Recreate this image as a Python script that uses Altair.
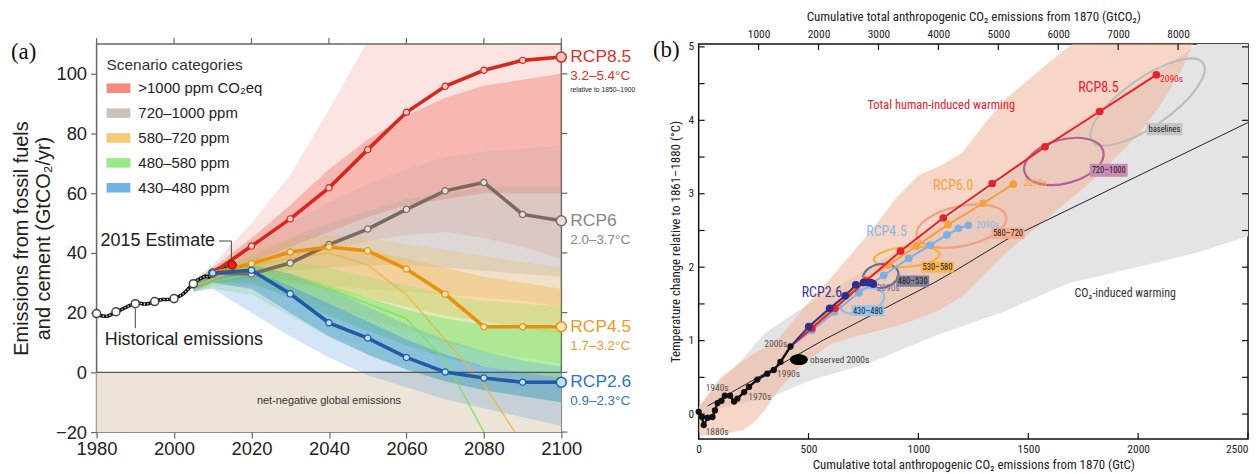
import altair as alt
import pandas as pd

FA = "Liberation Sans, Arial, Helvetica, sans-serif"
FB = "Liberation Sans Narrow, Roboto Condensed, DejaVu Sans Condensed, Liberation Sans, sans-serif"
FS = "Liberation Serif, Times New Roman, serif"

# ------------------------------------------------------------------ panel (a) data
hist_years = list(range(1980, 2016))
hist_vals = [19.7, 19.0, 18.8, 18.9, 19.5, 20.3, 20.8, 21.4, 22.1, 22.6,
             23.0, 23.2, 22.9, 22.9, 23.2, 23.7, 24.2, 24.4, 24.4, 24.5,
             24.7, 25.3, 25.9, 27.0, 28.4, 29.7, 30.8, 31.6, 32.2, 31.9,
             33.3, 34.4, 35.0, 35.4, 35.8, 36.0]
hist_mark_years = [1980, 1985, 1990, 1995, 2000, 2005, 2010]
hist_mark_vals = [19.7, 20.3, 23.0, 23.7, 24.7, 29.7, 33.3]
est_year = [2015]
est_val = [36.0]

rcp_years = [2010, 2020, 2030, 2040, 2050, 2060, 2070, 2080, 2090, 2100]
rcp85_em = [33.3, 42.3, 51.4, 61.8, 74.6, 87.1, 95.8, 101.2, 104.5, 105.6]
rcp6_em = [33.3, 33.0, 36.6, 42.8, 48.0, 54.6, 60.8, 63.6, 52.9, 50.8]
rcp45_em = [33.3, 36.4, 40.3, 42.0, 40.7, 34.6, 26.2, 15.3, 15.3, 15.3]
rcp26_em = [33.3, 34.2, 26.3, 16.6, 11.5, 5.0, 0.1, -1.9, -3.3, -3.3]
rcp_names = ["RCP8.5", "RCP6", "RCP4.5", "RCP2.6"]
rcp_ranges = ["3.2–5.4°C", "2.0–3.7°C", "1.7–3.2°C", "0.9–2.3°C"]

band_years = [2005, 2010, 2020, 2030, 2040, 2050, 2060, 2070, 2080, 2090, 2100]
cat_names = [">1000 ppm CO₂eq", "720–1000 ppm", "580–720 ppm", "480–580 ppm", "430–480 ppm"]
outer_lo = [[27, 30, 35, 38, 41, 44, 46, 47, 45, 42, 38],
            [27, 30, 31, 30, 29, 28, 27, 26, 25, 24, 22],
            [27, 29, 29, 26, 22, 18, 14, 10, 7, 5, 3],
            [27, 28, 26, 19, 12, 6, 1, -3, -6, -8, -10],
            [27, 28, 20, 12, 5, -1, -5, -9, -12, -15, -18]]
outer_hi = [[31, 36, 50, 66, 88, 111, 111, 111, 111, 111, 111],
            [31, 35, 42, 50, 57, 63, 68, 72, 74, 75, 76],
            [31, 34, 41, 45, 46, 45, 43, 41, 39, 37, 35],
            [31, 34, 38, 37, 35, 32, 29, 26, 24, 23, 22],
            [31, 34, 36, 33, 28, 22, 16, 11, 7, 4, 2]]
core_lo = [[28, 31, 37, 42, 47, 52, 56, 58, 60, 60, 60],
           [28, 31, 33, 34, 35, 36, 36, 35, 34, 33, 32],
           [28, 30, 32, 31, 28, 25, 22, 19, 17, 15, 13],
           [28, 30, 30, 25, 19, 14, 9, 5, 2, 0, -2],
           [28, 30, 28, 20, 12, 6, 1, -3, -6, -8, -10]]
core_hi = [[30, 35, 45, 56, 68, 78, 86, 92, 96, 98, 100],
           [30, 34, 39, 45, 50, 54, 58, 60, 62, 62, 62],
           [30, 33, 38, 41, 42, 41, 38, 35, 32, 30, 28],
           [30, 33, 36, 33, 29, 25, 21, 18, 16, 15, 14],
           [30, 33, 34, 29, 23, 17, 11, 6, 2, 0, -2]]
steep_green_years = [2005, 2020, 2040, 2060, 2070, 2080]
steep_green_vals = [29, 33, 28, 18, 4, -20]
steep_orange_years = [2005, 2020, 2040, 2050, 2060, 2070, 2080, 2090]
steep_orange_vals = [29, 36, 40, 36, 26, 11, -4, -24]

y_ticks_a = [-20, 0, 20, 40, 60, 80, 100]
x_ticks_a = [1980, 2000, 2020, 2040, 2060, 2080, 2100]

# ------------------------------------------------------------------ panel (b) data
hist_b_x = [0, 15, 23, 41, 63, 74, 86, 104, 119, 143, 161, 176, 207, 229, 267, 312, 342, 372, 418]
hist_b_y = [0.03, -0.04, -0.15, -0.05, -0.04, 0.05, 0.15, 0.18, 0.25, 0.25, 0.17, 0.21,
            0.30, 0.37, 0.47, 0.55, 0.60, 0.71, 0.92]
rcp85_b_x = [418, 515, 620, 760, 919, 1113, 1336, 1576, 1825, 2083]
rcp85_b_y = [0.92, 1.17, 1.44, 1.81, 2.22, 2.67, 3.14, 3.64, 4.12, 4.62]
rcp60_b_x = [418, 510, 600, 680, 760, 864, 992, 1135, 1294, 1432]
rcp60_b_y = [0.92, 1.17, 1.42, 1.63, 1.83, 2.03, 2.29, 2.58, 2.87, 3.13]
rcp45_b_x = [418, 516, 619, 729, 842, 956, 1054, 1130, 1182, 1227]
rcp45_b_y = [0.92, 1.14, 1.39, 1.65, 1.89, 2.12, 2.30, 2.44, 2.53, 2.57]
rcp26_b_x = [418, 501, 596, 667, 715, 750, 770, 782, 790, 795]
rcp26_b_y = [0.92, 1.19, 1.44, 1.61, 1.76, 1.79, 1.79, 1.79, 1.78, 1.77]
co2_line_x = [41, 569, 1066, 1172, 1398, 2500]
co2_line_y = [0.11, 1.01, 1.78, 1.96, 2.37, 3.97]
gray_x = [0, 100, 200, 300, 400, 500, 780, 1080, 1385, 1684, 2137, 2270, 2500]
gray_lo = [-0.05, 0.08, 0.15, 0.2, 0.32, 0.45, 0.7, 1.07, 1.39, 1.78, 2.10, 2.2, 2.42]
gray_hi = [0.1, 0.45, 0.75, 1.1, 1.3, 1.5, 2.0, 2.55, 3.2, 3.9, 4.75, 5.04, 5.04]
peach_x = [0, 100, 200, 250, 300, 370, 480, 600, 700, 800, 900, 1000, 1100, 1200, 1300,
           1400, 1500, 1600, 1700, 1800, 1900, 2000, 2100, 2200, 2250]
peach_lo = [-0.3, -0.28, -0.22, -0.12, 0.05, 0.35, 0.7, 0.95, 1.05, 1.12, 1.2, 1.3, 1.42,
            1.6, 1.9, 2.2, 2.45, 2.7, 2.95, 3.2, 3.5, 3.8, 4.2, 4.7, 5.04]
peach_hi = [0.1, 0.5, 0.72, 0.82, 0.9, 1.05, 1.45, 1.85, 2.2, 2.55, 2.95, 3.25, 3.38, 3.56,
            3.95, 4.3, 4.55, 4.8, 5.04, 5.04, 5.04, 5.04, 5.04, 5.04, 5.04]
obs_x = [456]
obs_y = [0.74]
ell_names = ["baselines", "720–1000", "580–720", "530–580", "480–530", "430–480"]
ell_x = [2043, 1662, 1196, 947, 829, 743]
ell_y = [4.25, 3.44, 2.56, 2.14, 1.88, 1.54]
box_x = [2120, 1866, 1408, 1087, 974, 770]
box_y = [3.88, 3.32, 2.46, 2.00, 1.81, 1.41]
dec_labels = ["1880s", "1940s", "1970s", "1990s", "2000s"]
dec_x = [32, 32, 226, 357, 299]
dec_y = [-0.24, 0.35, 0.23, 0.54, 0.96]
y_ticks_b = [0, 1, 2, 3, 4, 5]
y_minor_b = [0, 0.5, 1, 1.5, 2, 2.5, 3, 3.5, 4, 4.5, 5]
x_ticks_b = [0, 500, 1000, 1500, 2000, 2500]
x_top_ticks = [1000, 2000, 3000, 4000, 5000, 6000, 7000, 8000]

# ------------------------------------------------------------------ styles
W_A, H_A = 467, 390
W_B, H_B = 552, 397
cat_colors = ["#ef5a4c", "#b3a79f", "#f2b33d", "#6fe05a", "#3d8fd6"]
outer_op = [0.16, 0.2, 0.2, 0.22, 0.22]
core_op = [0.32, 0.3, 0.34, 0.4, 0.38]
rcp_line_cols = ["#d7261e", "#7a6a60", "#e8920c", "#1f5ba8"]
rcp_fill_cols = ["#f6c9c0", "#e6e0dc", "#fbe3b8", "#bfe0f5"]
rcp_text_cols = ["#e0302a", "#8c8480", "#ec9a2a", "#2f74c0"]
ell_a = [68, 41, 46, 33, 18, 23]
ell_b = [24, 22, 20, 10, 12, 12]
ell_ang = [325, 345, 348, 355, 350, 345]
ell_cols = ["#bcbcbc", "#b5609a", "#f4a080", "#f7b23b", "#6e6e90", "#8cc0ea"]
box_cols = ["#c4c4c4", "#c98ab5", "#f6ab8c", "#f9b54f", "#80809a", "#96c5ec"]
box_w = [36, 38, 33, 33, 33, 33]

xa_scale = alt.Scale(domain=[1980, 2100], nice=False, zero=False)
ya_scale = alt.Scale(domain=[-20, 110], nice=False, zero=False)


def XA(f, axis=None):
    if axis is None:
        return alt.X(f, type="quantitative", scale=xa_scale)
    return alt.X(f, type="quantitative", scale=xa_scale, axis=axis)


def YA(f, axis=None):
    if axis is None:
        return alt.Y(f, type="quantitative", scale=ya_scale)
    return alt.Y(f, type="quantitative", scale=ya_scale, axis=axis)


xaxis_a = alt.Axis(values=x_ticks_a, format="d", title="", labelFont=FA, labelFontSize=18.5,
                   labelColor="#222", tickSize=6, tickColor="#666", tickWidth=1.2, domain=False,
                   grid=False, labelPadding=2, labelFlush=False)
yaxis_a = alt.Axis(values=y_ticks_a, title=["Emissions from fossil fuels", "and cement (GtCO₂/yr)"],
                   titleFont=FA, titleFontSize=20, titleFontWeight="normal", titleColor="#222",
                   titlePadding=2, labelFont=FA, labelFontSize=18.5, labelColor="#222",
                   tickSize=6, tickColor="#666", tickWidth=1.2, domain=False, grid=False,
                   labelPadding=4, labelFlush=False)

cscale = alt.Scale(domain=cat_names, range=cat_colors)
leg = alt.Legend(orient="none", legendX=10, legendY=14, title="Scenario categories",
                 titleFont=FA, titleFontSize=15.5, titleFontWeight="normal", titleColor="#333",
                 labelFont=FA, labelFontSize=15, labelColor="#222",
                 symbolType="M-1,-0.4H1V0.4H-1Z", symbolSize=576, symbolOpacity=0.7,
                 symbolStrokeWidth=0, rowPadding=5, titlePadding=3, padding=0, labelOffset=8)

layers_a = []
neg_df = pd.DataFrame({"x": [1980], "x2": [2100], "y": [0], "y2": [-20]})
layers_a.append(alt.Chart(neg_df).mark_rect(color="#ece4d7").encode(
    x=XA("x", xaxis_a), x2="x2", y=YA("y", yaxis_a), y2="y2"))

rows = []
for ci, c in enumerate(cat_names):
    for j, yr in enumerate(band_years):
        rows.append(dict(cat=c, year=yr, lo=outer_lo[ci][j], hi=outer_hi[ci][j],
                         clo=core_lo[ci][j], chi=core_hi[ci][j]))
bands = pd.DataFrame(rows)
for ci, c in enumerate(cat_names):
    d = bands[bands.cat == c]
    layers_a.append(alt.Chart(d).mark_area(opacity=outer_op[ci], clip=True).encode(
        x=XA("year"), y=YA("lo"), y2="hi", color=alt.Color("cat:N", scale=cscale, legend=leg)))
    layers_a.append(alt.Chart(d).mark_area(opacity=core_op[ci], clip=True).encode(
        x=XA("year"), y=YA("clo"), y2="chi", color=alt.Color("cat:N", scale=cscale, legend=leg)))

for yrs, vals, col in [(steep_green_years, steep_green_vals, "#74e35c"),
                       (steep_orange_years, steep_orange_vals, "#f0b440")]:
    layers_a.append(alt.Chart(pd.DataFrame({"year": yrs, "val": vals})).mark_line(
        color=col, strokeWidth=1.6, opacity=0.8, clip=True).encode(x=XA("year"), y=YA("val")))

zero_df = pd.DataFrame({"v": [0]})
layers_a.append(alt.Chart(zero_df).mark_rule(color="#555", strokeWidth=1.2).encode(y=YA("v")))

hist_df = pd.DataFrame({"year": hist_years, "val": hist_vals})
layers_a.append(alt.Chart(hist_df).mark_line(color="#111", strokeWidth=3.6).encode(
    x=XA("year"), y=YA("val")))
layers_a.append(alt.Chart(hist_df).mark_line(color="white", strokeWidth=1.3, strokeDash=[1.2, 2.2]).encode(
    x=XA("year"), y=YA("val")))
hm_df = pd.DataFrame({"year": hist_mark_years, "val": hist_mark_vals})
layers_a.append(alt.Chart(hm_df).mark_point(filled=True, fill="white", stroke="#444", strokeWidth=1.5,
                                            size=65, opacity=1).encode(x=XA("year"), y=YA("val")))

rcp_vals = [rcp85_em, rcp6_em, rcp45_em, rcp26_em]
for name, vals, lc, fc in zip(rcp_names, rcp_vals, rcp_line_cols, rcp_fill_cols):
    d = pd.DataFrame({"year": rcp_years, "val": vals})
    layers_a.append(alt.Chart(d).mark_line(color=lc, strokeWidth=3.6).encode(x=XA("year"), y=YA("val")))
    layers_a.append(alt.Chart(d[d.year < 2100]).mark_point(filled=True, fill=fc, stroke=lc, strokeWidth=1.2,
                                                           size=40, opacity=1).encode(x=XA("year"), y=YA("val")))
    layers_a.append(alt.Chart(d[d.year == 2100]).mark_point(filled=True, fill=fc, stroke=lc, strokeWidth=1.5,
                                                            size=100, opacity=1).encode(x=XA("year"), y=YA("val")))

est_df = pd.DataFrame({"year": est_year, "val": est_val})
layers_a.append(alt.Chart(est_df).mark_point(filled=True, fill="#e8201c", stroke="#7a0000", strokeWidth=1,
                                             size=70, opacity=1).encode(x=XA("year"), y=YA("val")))

for name, rng, vals, tc in zip(rcp_names, rcp_ranges, rcp_vals, rcp_text_cols):
    d = pd.DataFrame({"year": [2100], "val": [vals[-1]], "name": [name], "rng": [rng]})
    layers_a.append(alt.Chart(d).mark_text(align="left", baseline="middle", dx=9, font=FA, fontSize=17.5,
                                           color=tc).encode(x=XA("year"), y=YA("val"), text="name:N"))
    layers_a.append(alt.Chart(d).mark_text(align="left", baseline="middle", dx=9, dy=19, font=FA, fontSize=13.5,
                                           color=tc).encode(x=XA("year"), y=YA("val"), text="rng:N"))
rel_df = pd.DataFrame({"year": [2100], "val": [rcp85_em[-1]], "t": ["relative to 1850–1900"]})
layers_a.append(alt.Chart(rel_df).mark_text(align="left", baseline="middle", dx=9, dy=33, font=FA, fontSize=6.8,
                                            color="#222").encode(x=XA("year"), y=YA("val"), text="t:N"))

ann_df = pd.DataFrame({"year": [2010.6], "val": [44.0], "t": ["2015 Estimate"]})
layers_a.append(alt.Chart(ann_df).mark_text(align="right", baseline="middle", font=FA, fontSize=18,
                                            color="#222").encode(x=XA("year"), y=YA("val"), text="t:N"))
lead1 = pd.DataFrame({"year": [2011.6, 2014.8, 2014.8], "val": [44.0, 44.0, 37.6], "o": [0, 1, 2]})
layers_a.append(alt.Chart(lead1).mark_line(color="#444", strokeWidth=1).encode(
    x=XA("year"), y=YA("val"), order="o:Q"))
ann2 = pd.DataFrame({"year": [1982.1], "val": [11.0], "t": ["Historical emissions"]})
layers_a.append(alt.Chart(ann2).mark_text(align="left", baseline="middle", font=FA, fontSize=18,
                                          color="#222").encode(x=XA("year"), y=YA("val"), text="t:N"))
lead2 = pd.DataFrame({"year": [1990, 1990], "val": [21.4, 14.8], "o": [0, 1]})
layers_a.append(alt.Chart(lead2).mark_line(color="#444", strokeWidth=1).encode(
    x=XA("year"), y=YA("val"), order="o:Q"))
ann3 = pd.DataFrame({"year": [2040], "val": [-9.7], "t": ["net-negative global emissions"]})
layers_a.append(alt.Chart(ann3).mark_text(align="center", baseline="middle", font=FA, fontSize=11,
                                          color="#333").encode(x=XA("year"), y=YA("val"), text="t:N"))

layers_a.append(alt.Chart(pd.DataFrame({"v": y_ticks_a})).mark_rule(color="#666", strokeWidth=1.2).encode(
    y=YA("v"), x=alt.value(W_A), x2=alt.value(W_A + 6)))
layers_a.append(alt.Chart(pd.DataFrame({"v": x_ticks_a})).mark_rule(color="#666", strokeWidth=1.2).encode(
    x=XA("v"), y=alt.value(0), y2=alt.value(-6)))
layers_a.append(alt.Chart(pd.DataFrame({"t": ["(a)"]})).mark_text(
    align="left", baseline="middle", font=FS, fontSize=23, color="#111").encode(
    x=alt.value(-86), y=alt.value(8), text="t:N"))

panel_a = alt.layer(*layers_a).properties(
    width=W_A, height=H_A, view=alt.ViewBackground(stroke="#666", strokeWidth=1.5))

# ------------------------------------------------------------------ panel (b)
xb_scale = alt.Scale(domain=[0, 2500], nice=False, zero=False)
yb_scale = alt.Scale(domain=[-0.34, 5.04], nice=False, zero=False)


def XB(f, axis=None):
    if axis is None:
        return alt.X(f, type="quantitative", scale=xb_scale)
    return alt.X(f, type="quantitative", scale=xb_scale, axis=axis)


def YB(f, axis=None):
    if axis is None:
        return alt.Y(f, type="quantitative", scale=yb_scale)
    return alt.Y(f, type="quantitative", scale=yb_scale, axis=axis)


xaxis_b = alt.Axis(values=x_ticks_b, format="d", title="Cumulative total anthropogenic CO₂ emissions from 1870 (GtC)",
                   titleFont=FB, titleFontSize=13, titleFontWeight="normal", titleColor="#222", titlePadding=3,
                   labelFont=FB, labelFontSize=11.5, labelColor="#222", ticks=False, domain=False, grid=False,
                   labelPadding=5, labelFlush=False,
                   labelAlign=alt.condition("datum.value >= 2500", alt.value("right"), alt.value("center")))
yaxis_b = alt.Axis(values=y_ticks_b, format="d", title="Temperature change relative to 1861–1880 (°C)",
                   titleFont=FB, titleFontSize=13, titleFontWeight="normal", titleColor="#222", titlePadding=6,
                   labelFont=FB, labelFontSize=11.5, labelColor="#222", ticks=False, domain=False, grid=False,
                   labelPadding=5, labelFlush=False)

lb = []
gdf = pd.DataFrame({"x": gray_x, "lo": gray_lo, "hi": gray_hi})
lb.append(alt.Chart(gdf).mark_area(color="#e4e4e4", opacity=1, clip=True).encode(
    x=XB("x", xaxis_b), y=YB("lo", yaxis_b), y2="hi"))
pdf = pd.DataFrame({"x": peach_x, "lo": peach_lo, "hi": peach_hi})
lb.append(alt.Chart(pdf).mark_area(color="#f0b69c", opacity=0.56, clip=True).encode(
    x=XB("x"), y=YB("lo"), y2="hi"))
cdf = pd.DataFrame({"x": co2_line_x, "y": co2_line_y})
lb.append(alt.Chart(cdf).mark_line(color="#222", strokeWidth=1, clip=True).encode(x=XB("x"), y=YB("y")))

for i in range(len(ell_names)):
    r = ell_b[i] / ell_a[i]
    path = f"M-1,0A1,{r:.3f} 0 1,0 1,0A1,{r:.3f} 0 1,0 -1,0Z"
    d = pd.DataFrame({"x": [ell_x[i]], "y": [ell_y[i]]})
    lb.append(alt.Chart(d).mark_point(shape=path, size=(2 * ell_a[i]) ** 2, angle=ell_ang[i], filled=False,
                                      stroke=ell_cols[i], strokeWidth=2.2, opacity=1).encode(
        x=XB("x"), y=YB("y")))

rcpb = [(rcp45_b_x, rcp45_b_y, "#7fb0e4"), (rcp60_b_x, rcp60_b_y, "#f5a03a"),
        (rcp85_b_x, rcp85_b_y, "#e8202a"), (rcp26_b_x, rcp26_b_y, "#312c8e")]
for xs, ys, col in rcpb:
    d = pd.DataFrame({"x": xs, "y": ys, "o": list(range(len(xs)))})
    lb.append(alt.Chart(d).mark_line(color=col, strokeWidth=2).encode(x=XB("x"), y=YB("y"), order="o:Q"))
    lb.append(alt.Chart(d[d.o > 0]).mark_point(filled=True, color=col, size=60, opacity=1).encode(
        x=XB("x"), y=YB("y")))

hbd = pd.DataFrame({"x": hist_b_x, "y": hist_b_y, "o": list(range(len(hist_b_x)))})
lb.append(alt.Chart(hbd).mark_line(color="#111", strokeWidth=2.4).encode(x=XB("x"), y=YB("y"), order="o:Q"))
lb.append(alt.Chart(hbd).mark_point(filled=True, color="#111", size=40, opacity=1).encode(x=XB("x"), y=YB("y")))
odf = pd.DataFrame({"x": obs_x, "y": obs_y})
lb.append(alt.Chart(odf).mark_point(shape="M-1,0A1,0.6 0 1,0 1,0A1,0.6 0 1,0 -1,0Z", size=324, filled=True,
                                    color="#000", opacity=1).encode(x=XB("x"), y=YB("y")))

for i, nm in enumerate(ell_names):
    d = pd.DataFrame({"x": [box_x[i]], "y": [box_y[i]], "t": [nm]})
    lb.append(alt.Chart(d).mark_point(shape="M-1,-0.34H1V0.34H-1Z", size=box_w[i] ** 2, filled=True,
                                      color=box_cols[i], opacity=1).encode(x=XB("x"), y=YB("y")))
    lb.append(alt.Chart(d).mark_text(font=FB, fontSize=8.5, color="#222", align="center", baseline="middle").encode(
        x=XB("x"), y=YB("y"), text="t:N"))

ddf = pd.DataFrame({"x": dec_x, "y": dec_y, "t": dec_labels})
lb.append(alt.Chart(ddf).mark_text(font=FB, fontSize=9.5, color="#555", align="left", baseline="middle").encode(
    x=XB("x"), y=YB("y"), text="t:N"))


def txt(x, y, t, col, size, align="center"):
    d = pd.DataFrame({"x": [x], "y": [y], "t": [t]})
    return alt.Chart(d).mark_text(font=FB, fontSize=size, color=col, align=align, baseline="middle").encode(
        x=XB("x"), y=YB("y"), text="t:N")


lb.append(txt(507, 0.73, "observed 2000s", "#444", 9.5, "left"))
lb.append(txt(2100, 4.56, "2090s", "#e8202a", 9.5, "left"))
lb.append(txt(1480, 3.14, "2090s", "#f5a03a", 9.5, "left"))
lb.append(txt(1262, 2.58, "2090s", "#8ab8e8", 9.5, "left"))
lb.append(txt(810, 1.72, "2090s", "#6a6aa0", 9.5, "left"))
lb.append(txt(1819, 4.44, "RCP8.5", "#e8202a", 14))
lb.append(txt(1158, 3.10, "RCP6.0", "#f5a03a", 14))
lb.append(txt(855, 2.48, "RCP4.5", "#8ab8e8", 14))
lb.append(txt(561, 1.65, "RCP2.6", "#3a3596", 14))
lb.append(txt(1104, 4.21, "Total human-induced warming", "#e8202a", 12.5))
lb.append(txt(1941, 1.65, "CO₂-induced warming", "#333", 12))

lb.append(alt.Chart(pd.DataFrame({"v": y_minor_b})).mark_rule(color="#111", strokeWidth=1.2).encode(
    y=YB("v"), x=alt.value(0), x2=alt.value(6)))
lb.append(alt.Chart(pd.DataFrame({"v": y_minor_b})).mark_rule(color="#111", strokeWidth=1.2).encode(
    y=YB("v"), x=alt.value(W_B - 6), x2=alt.value(W_B)))
lb.append(alt.Chart(pd.DataFrame({"v": x_ticks_b})).mark_rule(color="#111", strokeWidth=1.2).encode(
    x=XB("v"), y=alt.value(H_B - 6), y2=alt.value(H_B)))
lb.append(alt.Chart(pd.DataFrame({"t": ["(b)"]})).mark_text(
    align="left", baseline="middle", font=FS, fontSize=23, color="#111").encode(
    x=alt.value(-46), y=alt.value(6), text="t:N"))

inner_b = alt.layer(*lb)
top_axis = alt.Axis(values=x_top_ticks, format="d", orient="top",
                    title="Cumulative total anthropogenic CO₂ emissions from 1870 (GtCO₂)",
                    titleFont=FB, titleFontSize=13, titleFontWeight="normal", titleColor="#222", titlePadding=6,
                    labelFont=FB, labelFontSize=11.5, labelColor="#222", ticks=False, domain=False, grid=False,
                    labelPadding=4)
top_layer = alt.Chart(pd.DataFrame({"v": x_top_ticks})).mark_rule(color="#111", strokeWidth=1.2).encode(
    x=alt.X("v:Q", scale=alt.Scale(domain=[0, 2500 * 44 / 12], nice=False, zero=False), axis=top_axis),
    y=alt.value(0), y2=alt.value(6))

panel_b = alt.layer(inner_b, top_layer).resolve_scale(x="independent").properties(
    width=W_B, height=H_B, view=alt.ViewBackground(stroke="#111", strokeWidth=1.5))

chart = alt.hconcat(panel_a, panel_b, spacing=138, bounds="flush").properties(
    padding={"left": 2, "top": 0, "right": 0, "bottom": 0}, background="white"
).configure_view(strokeWidth=1.5)

chart.save("out.html", embed_options={"renderer": "svg", "actions": False})
